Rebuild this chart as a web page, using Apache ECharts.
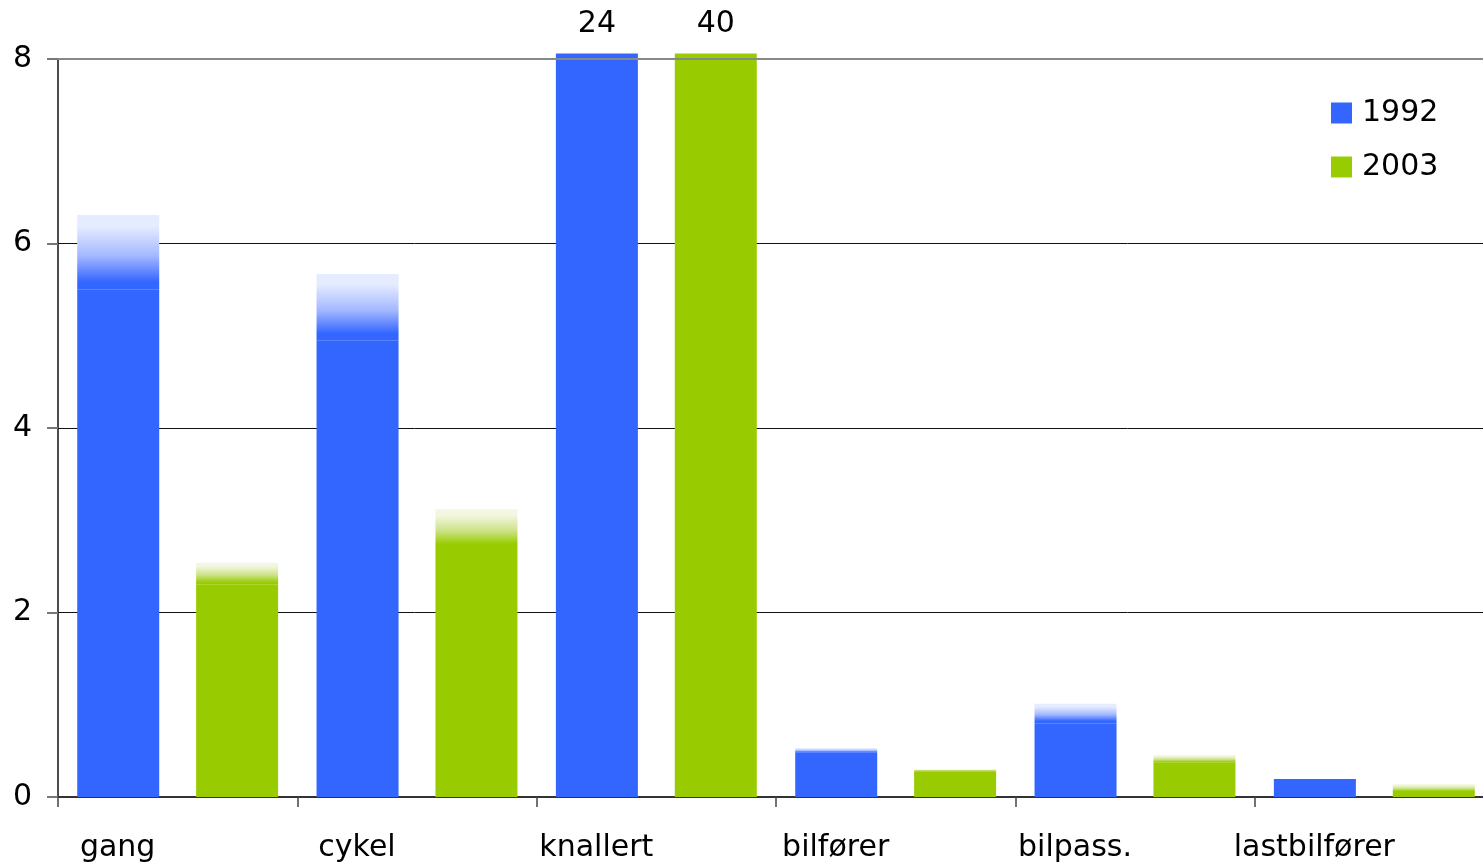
<!DOCTYPE html>
<html>
<head>
<meta charset="utf-8">
<script src="https://cdn.jsdelivr.net/npm/echarts@6/dist/echarts.min.js"></script>
<style>
html,body{margin:0;padding:0;background:#fff;}
#chart{width:1483px;height:868px;}
</style>
</head>
<body>
<div id="chart"></div>
<script>
const categories = ['gang', 'cykel', 'knallert', 'bilfører', 'bilpass.', 'lastbilfører'];
const seriesNames = ['1992', '2003'];
// solid part (lower) and faded top (upper) of each bar
const low1992  = [5.50, 4.95, 24, 0.48, 0.80, 0.195];
const high1992 = [6.31, 5.67, 24, 0.53, 1.01, 0.195];
const low2003  = [2.30, 2.70, 40, 0.28, 0.37, 0.055];
const high2003 = [2.54, 3.12, 40, 0.30, 0.455, 0.14];
const yTicks = [0, 2, 4, 6, 8];

const AXIS_MAX = 8;
const CAP = 8.06;
const FONT = 'DejaVu Sans';

function base(lows){ return lows.map(v => Math.min(v, CAP)); }
function range(lows, highs){ return highs.map((h, i) => Math.max(0, Math.min(h, CAP) - Math.min(lows[i], CAP))); }

function fade(color, light, mid){
  return new echarts.graphic.LinearGradient(0, 0, 0, 1, [
    {offset: 0, color: light},
    {offset: 0.15, color: light},
    {offset: 0.55, color: mid},
    {offset: 0.9, color: color},
    {offset: 1, color: color}
  ]);
}

const BLUE = '#3366FF', GREEN = '#99CC00';

const topLabel = lows => ({
  show: true,
  position: 'top',
  distance: 14,
  fontFamily: FONT,
  fontSize: 30,
  color: '#000',
  formatter: p => lows[p.dataIndex] > AXIS_MAX ? String(lows[p.dataIndex]) : ''
});

const chart = echarts.init(document.getElementById('chart'), null, {renderer: 'canvas'});
chart.setOption({
  animation: false,
  backgroundColor: '#fff',
  grid: {left: 58, width: 1436, top: 59, bottom: 71, containLabel: false, outerBoundsMode: 'none'},
  legend: {
    data: seriesNames,
    orient: 'vertical',
    left: 1331,
    top: 98,
    padding: 0,
    itemWidth: 21,
    itemHeight: 21,
    itemGap: 24,
    icon: 'rect',
    textStyle: {fontFamily: FONT, fontSize: 30, color: '#000', padding: [0, 0, 0, 5]}
  },
  xAxis: {
    type: 'category',
    data: categories,
    axisLine: {lineStyle: {color: '#333', width: 2}},
    axisTick: {show: true, length: 10, alignWithLabel: false, lineStyle: {color: '#444', width: 1.5}},
    axisLabel: {
      fontFamily: FONT, fontSize: 30, color: '#000',
      margin: 36,
      align: 'center',
      padding: [0, 120, 0, 0]
    },
    splitLine: {show: false}
  },
  yAxis: {
    type: 'value',
    min: 0,
    max: AXIS_MAX,
    interval: 2,
    axisLine: {show: true, lineStyle: {color: '#111', width: 1.5}},
    axisTick: {show: true, length: 11, inside: false, lineStyle: {color: '#777', width: 2}},
    axisLabel: {fontFamily: FONT, fontSize: 30, color: '#000', margin: 26,
      formatter: v => yTicks.includes(v) ? String(v) : ''},
    splitLine: {show: true, lineStyle: {color: ['rgba(0,0,0,0)', '#111', '#111', '#111', 'rgba(0,0,0,0)'], width: 1}}
  },
  series: [
    {
      name: '1992', type: 'bar', stack: 'a', barWidth: 82, barGap: '45%', clip: false,
      itemStyle: {color: BLUE},
      data: base(low1992),
      label: topLabel(low1992),
      markLine: {
        silent: true, symbol: 'none', label: {show: false},
        lineStyle: {color: '#888', width: 2, type: 'solid'},
        data: [{yAxis: AXIS_MAX}]
      },
      z: 3
    },
    {
      name: '1992 top', type: 'bar', stack: 'a', barWidth: 82, clip: false,
      itemStyle: {color: fade(BLUE, '#e6ecff', '#a3b8ff')},
      data: range(low1992, high1992),
      z: 3
    },
    {
      name: '2003', type: 'bar', stack: 'b', barWidth: 82, barGap: '45%', clip: false,
      itemStyle: {color: GREEN},
      data: base(low2003),
      label: topLabel(low2003),
      z: 3
    },
    {
      name: '2003 top', type: 'bar', stack: 'b', barWidth: 82, clip: false,
      itemStyle: {color: fade(GREEN, '#f3f7e2', '#cde38a')},
      data: range(low2003, high2003),
      z: 3
    }
  ]
});
</script>
</body>
</html>
